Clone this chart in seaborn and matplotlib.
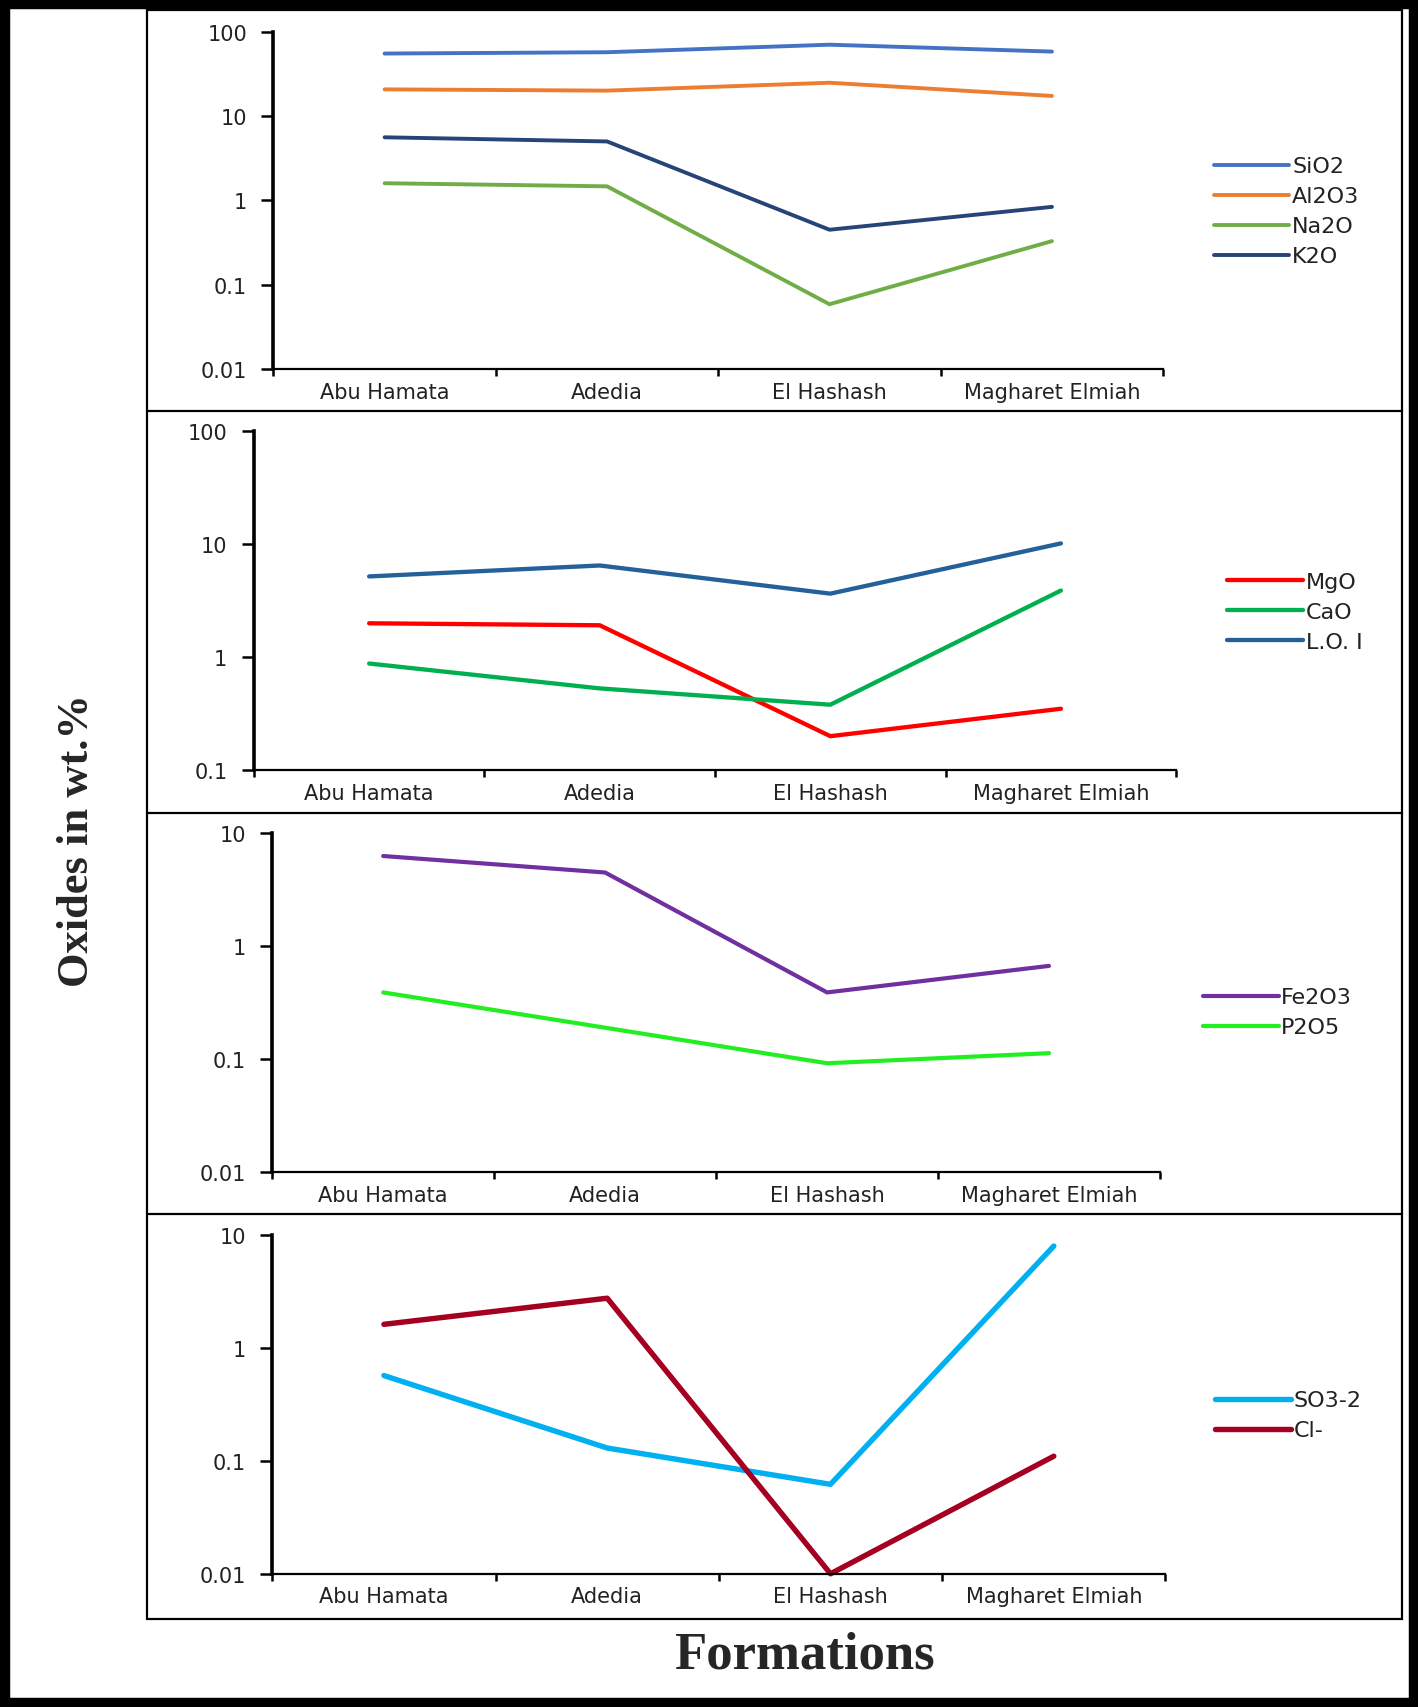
import matplotlib
matplotlib.use("Agg")
import numpy as np
import pandas as pd
import matplotlib.pyplot as plt
import seaborn as sns
from matplotlib.ticker import FixedLocator, FuncFormatter, NullLocator
from matplotlib.patches import Rectangle
from matplotlib.lines import Line2D

# formations along the x axis
formations = ["Abu Hamata", "Adedia", "El Hashash", "Magharet Elmiah"]

# panel 1 (wt.%)
sio2 = [55, 57, 70, 58]
al2o3 = [20.7, 20.0, 24.8, 17.3]
na2o = [1.6, 1.47, 0.059, 0.33]
k2o = [5.6, 5.0, 0.45, 0.84]

# panel 2
mgo = [2.0, 1.92, 0.2, 0.35]
cao = [0.88, 0.53, 0.38, 3.9]
loi = [5.2, 6.5, 3.66, 10.2]

# panel 3
fe2o3 = [6.3, 4.5, 0.39, 0.67]
p2o5 = [0.39, 0.19, 0.092, 0.113]

# panel 4
so3 = [0.57, 0.13, 0.062, 8.0]
cl = [1.62, 2.76, 0.01, 0.11]

panels = [
    {"series": {"SiO2": sio2, "Al2O3": al2o3, "Na2O": na2o, "K2O": k2o},
     "colors": {"SiO2": "#4472C4", "Al2O3": "#ED7D31", "Na2O": "#70AD47", "K2O": "#264478"},
     "ylim": (0.01, 100), "lw": 2.8,
     "rect": [0.1928, 0.7832, 0.6275, 0.1977], "leg": (0.856, 0.8756)},
    {"series": {"MgO": mgo, "CaO": cao, "L.O. I": loi},
     "colors": {"MgO": "#FF0000", "CaO": "#00B050", "L.O. I": "#24609A"},
     "ylim": (0.1, 100), "lw": 3.1,
     "rect": [0.179, 0.5485, 0.6505, 0.1983], "leg": (0.8655, 0.641)},
    {"series": {"Fe2O3": fe2o3, "P2O5": p2o5},
     "colors": {"Fe2O3": "#7030A0", "P2O5": "#22EE22"},
     "ylim": (0.01, 10), "lw": 3.0,
     "rect": [0.192, 0.3132, 0.626, 0.1983], "leg": (0.8484, 0.4067)},
    {"series": {"SO3-2": so3, "Cl-": cl},
     "colors": {"SO3-2": "#00B0F0", "Cl-": "#A50021"},
     "ylim": (0.01, 10), "lw": 3.9,
     "rect": [0.192, 0.078, 0.6299, 0.1983], "leg": (0.857, 0.1707)},
]

sns.set_style("white")
plt.rcParams["font.family"] = ["DejaVu Sans"]

fig = plt.figure(figsize=(14.18, 17.08), dpi=100)

for p in panels:
    rows = []
    for name, vals in p["series"].items():
        for f, v in zip(formations, vals):
            rows.append({"Formation": f, "Oxide": name, "value": v})
    df = pd.DataFrame(rows)

    ax = fig.add_axes(p["rect"])
    sns.lineplot(data=df, x="Formation", y="value", hue="Oxide",
                 hue_order=list(p["series"].keys()), palette=p["colors"],
                 linewidth=p["lw"], sort=False, ax=ax, legend=True)
    for ln in ax.lines:
        ln.set_clip_on(False)
        ln.set_solid_capstyle("round")

    ax.set_yscale("log")
    ax.set_ylim(*p["ylim"])
    lo, hi = np.log10(p["ylim"])
    ax.yaxis.set_major_locator(FixedLocator(10.0 ** np.arange(lo, hi + 1)))
    ax.yaxis.set_minor_locator(NullLocator())
    ax.yaxis.set_major_formatter(FuncFormatter(lambda v, pos: f"{v:g}"))

    ax.set_xlim(-0.5, 3.5)
    ax.set_xticks(range(4))
    ax.set_xticklabels(formations)
    ax.xaxis.set_minor_locator(FixedLocator([-0.5, 0.5, 1.5, 2.5, 3.5]))

    ax.tick_params(left=True, bottom=True, which="both")
    ax.tick_params(axis="y", which="major", length=9, width=1.8, direction="out",
                   pad=10, labelsize=15, color="black", labelcolor="#222222")
    ax.tick_params(axis="x", which="major", length=0, pad=9, labelsize=15,
                   labelcolor="#222222")
    ax.tick_params(axis="x", which="minor", length=5, width=1.8, direction="out",
                   color="black")
    ax.set_xlabel("")
    ax.set_ylabel("")
    for s in ["top", "right"]:
        ax.spines[s].set_visible(False)
    ax.spines["left"].set_linewidth(2.6)
    ax.spines["bottom"].set_linewidth(1.6)
    ax.spines["left"].set_color("black")
    ax.spines["bottom"].set_color("black")
    ax.set_facecolor("none")

    handles, labels = ax.get_legend_handles_labels()
    ax.legend(handles, labels, loc="center left", bbox_to_anchor=p["leg"],
              bbox_transform=fig.transFigure, frameon=False, fontsize=16,
              handlelength=3.4, handletextpad=0.12, labelspacing=0.45,
              borderpad=0, borderaxespad=0, labelcolor="#222222")

# inner frame with panel separators
fig.add_artist(Rectangle((0.1037, 0.0518), 0.9885 - 0.1037, 0.9936 - 0.0518,
                         transform=fig.transFigure, fill=False, lw=1.6,
                         edgecolor="black"))
for yy in [0.759, 0.5237, 0.2884]:
    fig.add_artist(Line2D([0.1037, 0.9885], [yy, yy], transform=fig.transFigure,
                          color="black", lw=1.6))

# thick outer border
fig.add_artist(Rectangle((0, 0), 1, 1, transform=fig.transFigure, fill=False,
                         lw=14, edgecolor="black"))

fig.text(0.054, 0.5077, "Oxides in wt.%", rotation=90, ha="center", va="center",
         fontsize=32, fontweight="bold", family=["Liberation Serif", "DejaVu Serif"])
fig.text(0.567, 0.0307, "Formations", ha="center", va="center",
         fontsize=38, fontweight="bold", family=["Liberation Serif", "DejaVu Serif"])

fig.savefig("out.png", dpi=100, facecolor="white")
